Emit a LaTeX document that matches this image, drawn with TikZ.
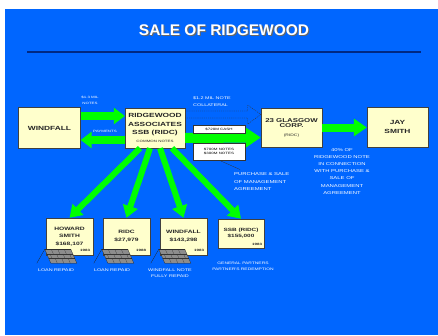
\documentclass[tikz,border=0pt]{standalone}
\usepackage{fontspec}
\setmainfont{Liberation Sans}
\newfontfamily\widefont{Liberation Sans}[FakeStretch=1.4]
\usetikzlibrary{arrows.meta, calc}
\definecolor{slideblue}{RGB}{0,102,255}
\definecolor{boxyellow}{RGB}{255,255,204}
\definecolor{arrowgreen}{RGB}{0,255,0}
\definecolor{rulenavy}{RGB}{0,40,130}
\tikzstyle{party} = [rectangle, draw=black!75, line width=0.6pt, fill=boxyellow, text=black!85, align=center, inner sep=1pt, font=\widefont\bfseries\fontsize{8.5}{12}\selectfont]
\tikzstyle{payee} = [party, font=\widefont\bfseries\fontsize{6.8}{11}\selectfont]
\tikzstyle{tag} = [text=white, align=center, inner sep=0pt, font=\widefont\fontsize{5.5}{8.5}\selectfont]
\tikzstyle{memo} = [rectangle, draw=black!80, fill=white, text=black, inner sep=0.5pt, align=center, font=\widefont\fontsize{4.5}{6}\selectfont]
\tikzstyle{year} = [text=black!85, inner sep=0pt, font=\widefont\bfseries\fontsize{4.5}{5}\selectfont]
\tikzstyle{flow} = [draw=arrowgreen, line width=0.4cm, -{Triangle[length=0.55cm,width=0.8cm]}]
\tikzstyle{drop} = [draw=arrowgreen, line width=0.3cm, -{Triangle[length=0.6cm,width=0.75cm]}]
\tikzstyle{collateral} = [draw=black!80, line width=0.5pt, dash pattern=on 1.5pt off 1.5pt]
\newcommand{\shadowed}[1]{\rlap{\hspace{1.5pt}\raisebox{-1.5pt}{\textcolor{black!60}{#1}}}#1}
\tikzset{
  bricks/.pic={
    \fill[black!45] (-1,-6) -- (25,-6) -- (31,8) -- (5,8) -- cycle;
    \foreach \r/\joints in {0/{6.5,13,19.5}, 1/{3.25,9.75,16.25,22.75}, 2/{6.5,13,19.5}}{
      \pgfmathsetmacro\ya{-6+\r*14/3}
      \pgfmathsetmacro\yb{\ya+14/3}
      \draw[black!80, line width=0.3pt] ({-1+0.4286*(\ya+6)},\ya) -- ++(26,0);
      \foreach \u in \joints
        \draw[black!80, line width=0.3pt] ({-1+\u+0.4286*(\ya+6)},\ya) -- ({-1+\u+0.4286*(\yb+6)},\yb);
    }
    \draw[black!85, line width=0.4pt] (-1,-6) -- (25,-6) -- (31,8) -- (5,8) -- cycle;
    \draw[black!85, line width=0.4pt] (-9,8) -- (-1,-6);
  }
}
\begin{document}
\begin{tikzpicture}[x=0.05cm, y=-0.05cm]
\useasboundingbox (0,0) rectangle (438,335);
\fill[white] (0,0) rectangle (438,335);
\fill[slideblue] (5,9) rectangle (438,335);

% title
\node (title) [text=white, font=\bfseries\fontsize{22}{24}\selectfont] at (224,30.5) {\shadowed{SALE OF RIDGEWOOD}};
\draw[rulenavy, line width=0.1cm] (27,52) -- (421,52);

% parties
\node (windfall) [party, minimum width=3.1cm, minimum height=2.05cm] at (49.5,128) {WINDFALL};
\node (ridge) [party, minimum width=3cm, minimum height=2cm] at (155,128) {RIDGEWOOD\\ASSOCIATES\\SSB (RIDC)\\[-1pt]{\mdseries\fontsize{4.5}{6}\selectfont COMMON NOTES}};
\node (glasgow) [party, minimum width=3.05cm, minimum height=1.95cm, font=\widefont\bfseries\fontsize{8}{8}\selectfont] at (291.5,127.5) {23 GLASGOW\\CORP.\\[4pt]{\mdseries\fontsize{5}{6}\selectfont (RIDC)}};
\node (jay) [party, minimum width=3.05cm, minimum height=2cm, font=\widefont\bfseries\fontsize{8.5}{14}\selectfont] at (397.5,127) {JAY\\SMITH};

% payees
\node (box1) [payee, minimum width=2.35cm, minimum height=1.85cm] at (69.5,236.5) {HOWARD\\SMITH\\\$168,107};
\node (box2) [payee, minimum width=2.35cm, minimum height=1.85cm] at (126.5,236.5) {RIDC\\\$27,979};
\node (box3) [payee, minimum width=2.35cm, minimum height=1.85cm] at (183.5,236.5) {WINDFALL\\\$143,298};
\node (box4) [payee, minimum width=2.3cm, minimum height=1.45cm, font=\widefont\bfseries\fontsize{6.5}{8}\selectfont] at (241,233.5) {SSB (RIDC)\\\$155,000};
\node (yr1) [year, anchor=south east] at ($(box1.south east)+(-3,-3.5)$) {1983};
\node (yr2) [year, anchor=south east] at ($(box2.south east)+(-4,-3.5)$) {1988};
\node (yr3) [year, anchor=south east] at ($(box3.south east)+(-3,-3.5)$) {1983};
\node (yr4) [year, anchor=south east] at ($(box4.south east)+(-2,-3)$) {1983};
\pic at (box1.south west) {bricks};
\pic at (box2.south west) {bricks};
\pic at (box3.south west) {bricks};

% flows
\draw [flow] ($(windfall.east)+(0,-12)$) -- ($(ridge.west)+(0,-12)$);
\draw [flow] ($(ridge.west)+(0,12)$) -- ($(windfall.east)+(0,12)$);
\draw [flow, line width=0.5cm, -{Triangle[length=0.75cm,width=0.95cm]}] ($(ridge.east)+(0,10)$) -- ($(glasgow.west)+(0,10)$);
\draw [flow, -{Triangle[length=0.65cm,width=0.85cm]}] (glasgow.east) -- (glasgow.east -| jay.west);
\draw [drop] ($(ridge.south)+(-15,0)$) -- (box1.north);
\draw [drop] ($(ridge.south)+(-5,0)$) -- (box2.north);
\draw [drop] ($(ridge.south)+(5,0)$) -- (box3.north);
\draw [drop] ($(ridge.south)+(17,0)$) -- (box4.north);
\draw [collateral] ($(ridge.east)+(0,-17)$) -- ($(glasgow.west)+(-13,-16.5)$) -- ($(glasgow.west)+(-13,-22.5)$) -- ($(glasgow.west)+(0,-13)$) -- ($(glasgow.west)+(-13,-3.5)$) -- ($(glasgow.west)+(-13,-9.5)$) -- ($(ridge.east)+(0,-10)$);

% labels
\node (notes13) [tag, font=\widefont\fontsize{4.5}{9}\selectfont] at (90,100.5) {\$1.3 MIL\\NOTES};
\node (payments) [tag, font=\widefont\fontsize{4.5}{6}\selectfont] at (105,131) {PAYMENTS};
\node (collat) [tag, align=left, anchor=west, font=\widefont\fontsize{5.5}{10}\selectfont] at (193,101.5) {\$1.2 MIL NOTE\\COLLATERAL};
\node (cash) [memo, minimum width=2.6cm, minimum height=0.4cm] at (219,129) {\$720M CASH};
\node (notes) [memo, minimum width=2.6cm, minimum height=0.85cm] at (219,151.5) {\$700M NOTES\\\$300M NOTES};
\node (purch) [tag, align=left, anchor=north west, font=\widefont\fontsize{6}{10.6}\selectfont] at (234,172.5) {PURCHASE \& SALE\\OF MANAGEMENT\\AGREEMENT};
\draw [black!80, line width=0.4pt] (notes.south) -- ($(purch.north west)+(6,-3)$);
\node (share) [tag, font=\widefont\fontsize{6}{10}\selectfont] at (342,171.5) {40\% OF\\RIDGEWOOD NOTE\\IN CONNECTION\\WITH PURCHASE \&\\SALE OF\\MANAGEMENT\\AGREEMENT};
\node (repaid1) [tag] at (56,270.5) {LOAN REPAID};
\node (repaid2) [tag] at (112,270.5) {LOAN REPAID};
\node (held) [tag] at (170,273) {WINDFALL NOTE\\FULLY REPAID};
\node (redeem) [tag, font=\widefont\fontsize{5}{8.5}\selectfont] at (243,266) {GENERAL PARTNERS\\PARTNER'S REDEMPTION};

\end{tikzpicture}
\end{document}
